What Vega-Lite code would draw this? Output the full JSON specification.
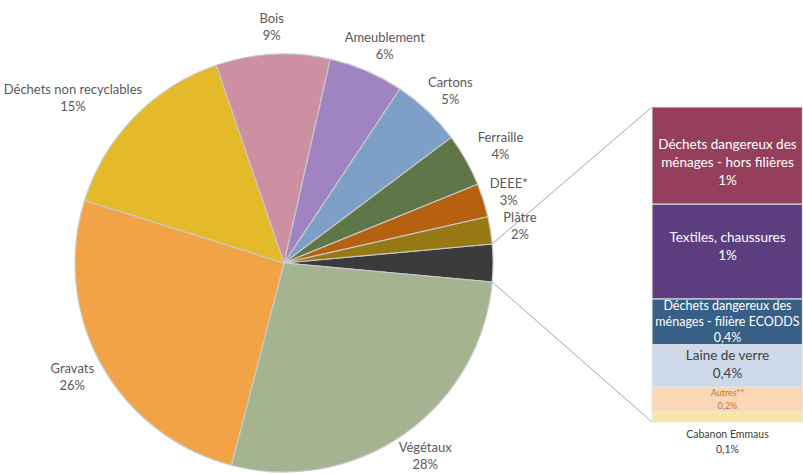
{
  "$schema": "https://vega.github.io/schema/vega-lite/v6.json",
  "width": 803,
  "height": 474,
  "autosize": "none",
  "padding": 0,
  "background": "white",
  "config": {"view": {"stroke": null}, "text": {"font": "Lato"}},
  "datasets": {
    "pie": [
      {"k": 1, "cat": "Autres", "value": 2.9, "lines": [""]},
      {"k": 2, "cat": "Végétaux", "value": 27.6, "lines": ["Végétaux", "28%"]},
      {"k": 3, "cat": "Gravats", "value": 25.8, "lines": ["Gravats", "26%"]},
      {"k": 4, "cat": "Déchets non recyclables", "value": 14.9, "lines": ["Déchets non recyclables", "15%"]},
      {"k": 5, "cat": "Bois", "value": 8.8, "lines": ["Bois", "9%"]},
      {"k": 6, "cat": "Ameublement", "value": 5.8, "lines": ["Ameublement", "6%"]},
      {"k": 7, "cat": "Cartons", "value": 5.4, "lines": ["Cartons", "5%"]},
      {"k": 8, "cat": "Ferraille", "value": 4.1, "lines": ["Ferraille", "4%"]},
      {"k": 9, "cat": "DEEE*", "value": 2.6, "lines": ["DEEE*", "3%"]},
      {"k": 10, "cat": "Plâtre", "value": 2.1, "lines": ["Plâtre", "2%"]}
    ],
    "bar": [
      {"rank": 1, "cat": "Cabanon Emmaus", "value": 0.10, "lines": ["Cabanon Emmaus", "0,1%"]},
      {"rank": 2, "cat": "Autres**", "value": 0.22, "lines": ["Autres**", "0,2%"]},
      {"rank": 3, "cat": "Laine de verre", "value": 0.39, "lines": ["Laine de verre", "0,4%"]},
      {"rank": 4, "cat": "Déchets dangereux des ménages - filière ECODDS", "value": 0.42, "lines": ["Déchets dangereux des", "ménages - filière ECODDS", "0,4%"]},
      {"rank": 5, "cat": "Textiles, chaussures", "value": 0.87, "lines": ["Textiles, chaussures", "1%"]},
      {"rank": 6, "cat": "Déchets dangereux des ménages - hors filières", "value": 0.89, "lines": ["Déchets dangereux des", "ménages - hors filières", "1%"]}
    ]
  },
  "layer": [
    {
      "data": {"values": [{}]},
      "mark": {"type": "rule", "color": "#a6a6a6", "strokeWidth": 1},
      "encoding": {
        "x": {"datum": 1.909, "type": "quantitative", "scale": {"domain": [-2.606, 4.761], "nice": false, "zero": false}, "axis": null},
        "y": {"datum": 1.633, "type": "quantitative", "scale": {"domain": [-0.477, 3.872], "nice": false, "zero": false}, "axis": null},
        "x2": {"datum": 3.376},
        "y2": {"datum": 2.89}
      }
    },
    {
      "data": {"values": [{}]},
      "mark": {"type": "rule", "color": "#a6a6a6", "strokeWidth": 1},
      "encoding": {
        "x": {"datum": 1.909, "type": "quantitative"},
        "y": {"datum": 1.285, "type": "quantitative"},
        "x2": {"datum": 3.376},
        "y2": {"datum": 0}
      }
    },
    {
      "data": {"name": "pie"},
      "mark": {"type": "arc", "radius": 209, "stroke": "#c8c8c8", "strokeWidth": 1.2},
      "encoding": {
        "x": {"datum": 0, "type": "quantitative"},
        "y": {"datum": 1.459, "type": "quantitative"},
        "theta": {"field": "value", "type": "quantitative", "stack": true, "scale": {"range": [1.4797, 7.7629]}},
        "order": {"field": "k", "type": "quantitative"},
        "color": {
          "field": "cat", "type": "nominal", "legend": null,
          "scale": {
            "domain": ["Autres", "Végétaux", "Gravats", "Déchets non recyclables", "Bois", "Ameublement", "Cartons", "Ferraille", "DEEE*", "Plâtre", "Cabanon Emmaus", "Autres**", "Laine de verre", "Déchets dangereux des ménages - filière ECODDS", "Textiles, chaussures", "Déchets dangereux des ménages - hors filières"],
            "range": ["#3b3b3b", "#a4b491", "#f2a346", "#e5ba2a", "#cd8fa2", "#9f84c1", "#7e9fc7", "#5f7748", "#b6610f", "#977914", "#f8e6a8", "#fbd7b5", "#cdd9e9", "#386087", "#5c3e80", "#953f5c"]
          }
        }
      }
    },
    {
      "data": {"name": "pie"},
      "mark": {
        "type": "text", "radius": 219, "fontSize": 13, "lineHeight": 17, "color": "#595959", "baseline": "middle", "align": "center",
        "dx": {"expr": "sin(scale('theta', (datum.value_start + datum.value_end) / 2)) * length(datum.lines[0]) * 3.3"},
        "dy": {"expr": "-cos(scale('theta', (datum.value_start + datum.value_end) / 2)) * 17 - 8.5"}
      },
      "encoding": {
        "x": {"datum": 0, "type": "quantitative"},
        "y": {"datum": 1.459, "type": "quantitative"},
        "theta": {"field": "value", "type": "quantitative", "stack": true, "scale": {"range": [1.4797, 7.7629]}},
        "order": {"field": "k", "type": "quantitative"},
        "text": {"field": "lines"}
      }
    },
    {
      "data": {"name": "bar"},
      "transform": [
        {"stack": "value", "groupby": [], "sort": [{"field": "rank", "order": "ascending"}], "as": ["y0", "y1"]}
      ],
      "mark": {"type": "rect", "stroke": "#e6e6e6", "strokeWidth": 1},
      "encoding": {
        "x": {"datum": 3.376, "type": "quantitative"},
        "x2": {"datum": 4.755},
        "y": {"field": "y0", "type": "quantitative"},
        "y2": {"field": "y1"},
        "color": {"field": "cat", "type": "nominal", "legend": null}
      }
    },
    {
      "data": {"name": "bar"},
      "transform": [
        {"stack": "value", "groupby": [], "sort": [{"field": "rank", "order": "ascending"}], "as": ["y0", "y1"]},
        {"calculate": "(datum.y0 + datum.y1) / 2", "as": "mid"},
        {"filter": "datum.rank == 6"}
      ],
      "mark": {"type": "text", "fontSize": 13.5, "lineHeight": 18, "baseline": "middle", "align": "center", "color": "#ffffff", "dy": -10.5},
      "encoding": {
        "x": {"datum": 4.068, "type": "quantitative"},
        "y": {"field": "mid", "type": "quantitative"},
        "text": {"field": "lines"}
      }
    },
    {
      "data": {"name": "bar"},
      "transform": [
        {"stack": "value", "groupby": [], "sort": [{"field": "rank", "order": "ascending"}], "as": ["y0", "y1"]},
        {"calculate": "(datum.y0 + datum.y1) / 2", "as": "mid"},
        {"filter": "datum.rank == 5"}
      ],
      "mark": {"type": "text", "fontSize": 13.5, "lineHeight": 18, "baseline": "middle", "align": "center", "color": "#ffffff", "dy": -13.5},
      "encoding": {
        "x": {"datum": 4.068, "type": "quantitative"},
        "y": {"field": "mid", "type": "quantitative"},
        "text": {"field": "lines"}
      }
    },
    {
      "data": {"name": "bar"},
      "transform": [
        {"stack": "value", "groupby": [], "sort": [{"field": "rank", "order": "ascending"}], "as": ["y0", "y1"]},
        {"calculate": "(datum.y0 + datum.y1) / 2", "as": "mid"},
        {"filter": "datum.rank == 3"}
      ],
      "mark": {"type": "text", "fontSize": 13.5, "lineHeight": 17.5, "baseline": "middle", "align": "center", "color": "#404040", "dy": -9.5},
      "encoding": {
        "x": {"datum": 4.068, "type": "quantitative"},
        "y": {"field": "mid", "type": "quantitative"},
        "text": {"field": "lines"}
      }
    },
    {
      "data": {"name": "bar"},
      "transform": [
        {"stack": "value", "groupby": [], "sort": [{"field": "rank", "order": "ascending"}], "as": ["y0", "y1"]},
        {"calculate": "(datum.y0 + datum.y1) / 2", "as": "mid"},
        {"filter": "datum.rank == 4"}
      ],
      "mark": {"type": "text", "fontSize": 12.5, "lineHeight": 16, "baseline": "middle", "align": "center", "color": "#ffffff", "dy": -16},
      "encoding": {
        "x": {"datum": 4.068, "type": "quantitative"},
        "y": {"field": "mid", "type": "quantitative"},
        "text": {"field": "lines"}
      }
    },
    {
      "data": {"name": "bar"},
      "transform": [
        {"stack": "value", "groupby": [], "sort": [{"field": "rank", "order": "ascending"}], "as": ["y0", "y1"]},
        {"calculate": "(datum.y0 + datum.y1) / 2", "as": "mid"},
        {"filter": "datum.rank == 2"}
      ],
      "mark": {"type": "text", "fontSize": 9, "lineHeight": 13, "baseline": "middle", "align": "center", "color": "#b57a3c", "dy": -6.5},
      "encoding": {
        "x": {"datum": 4.068, "type": "quantitative"},
        "y": {"field": "mid", "type": "quantitative"},
        "text": {"field": "lines"}
      }
    },
    {
      "data": {"name": "bar"},
      "transform": [{"filter": "datum.rank == 1"}],
      "mark": {"type": "text", "fontSize": 10.5, "lineHeight": 15, "baseline": "middle", "align": "center", "color": "#404040", "dy": -7.5},
      "encoding": {
        "x": {"datum": 4.068, "type": "quantitative"},
        "y": {"datum": -0.188, "type": "quantitative"},
        "text": {"field": "lines"}
      }
    }
  ]
}
